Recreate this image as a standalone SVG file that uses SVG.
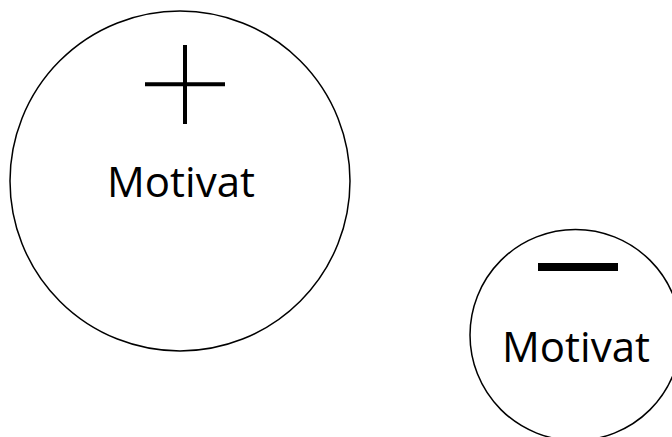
<svg xmlns="http://www.w3.org/2000/svg" width="672" height="437" viewBox="0 0 672 437">
<style>
.c{fill:#fff;stroke:#000;stroke-width:1.5}
.t{font-family:"Open Sans","Liberation Sans",sans-serif;font-size:42px;fill:#000;text-anchor:middle}
.s{stroke:#000;fill:none}
</style>
<rect width="672" height="437" fill="#fff"/>
<g id="positive">
<circle class="c" cx="180" cy="181" r="170"/>
<path class="s" stroke-width="4" d="M145 84.3H225M185 45V124"/>
<text class="t" x="181" y="197">Motivat</text>
</g>
<g id="negative">
<circle class="c" cx="575.5" cy="335" r="105.5"/>
<path class="s" stroke-width="8" d="M538 267H618"/>
<text class="t" x="576" y="362">Motivat</text>
</g>
<g id="connectors"></g>
</svg>
